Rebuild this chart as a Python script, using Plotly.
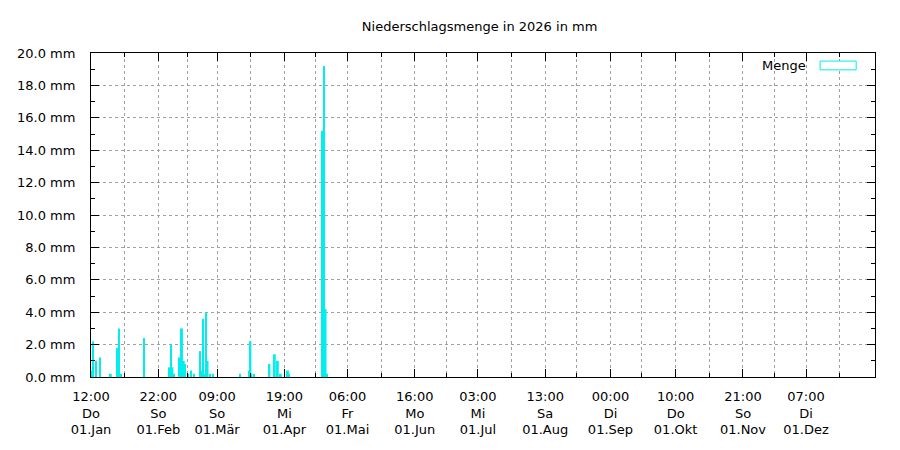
import plotly.graph_objects as go

# ---- data ----
rain_times = [
    "2026-01-01 18:00", "2026-01-02 10:00", "2026-01-03 20:00", "2026-01-05 17:00",
    "2026-01-10 18:00", "2026-01-13 21:00", "2026-01-14 14:00", "2026-01-15 12:00",
    "2026-01-26 06:00", "2026-02-07 02:00", "2026-02-08 12:00", "2026-02-07 20:00",
    "2026-02-09 06:00", "2026-02-11 14:00", "2026-02-12 01:00", "2026-02-12 23:00",
    "2026-02-13 19:00", "2026-02-14 09:00", "2026-02-15 19:00", "2026-02-17 04:00",
    "2026-02-18 14:00", "2026-02-21 10:00", "2026-02-21 22:00", "2026-02-22 19:00",
    "2026-02-23 12:00", "2026-02-24 05:00", "2026-02-24 22:00", "2026-02-26 02:00",
    "2026-02-27 12:00", "2026-03-12 02:00", "2026-03-16 07:00", "2026-03-16 22:00",
    "2026-03-17 10:00", "2026-03-18 14:00", "2026-03-25 14:00", "2026-03-25 19:00",
    "2026-03-28 07:00", "2026-03-29 17:00", "2026-03-31 02:00", "2026-04-03 10:00",
    "2026-04-03 22:00", "2026-04-19 14:00", "2026-04-20 07:00", "2026-04-21 00:00",
    "2026-04-21 17:00",
]
rain_mm = [
    0.4, 2.2, 1.0, 1.2,
    0.2, 1.8, 3.0, 0.2,
    2.4, 0.6, 0.6, 2.0,
    0.2, 1.2, 0.8, 3.0,
    1.0, 0.8, 0.2, 0.4,
    0.2, 1.6, 0.4, 3.6,
    0.2, 4.0, 1.0, 0.2,
    0.2, 0.2, 0.4, 2.2,
    0.2, 0.2, 0.2, 0.8,
    1.4, 1.0, 0.2, 0.4,
    0.2, 15.2, 19.2, 4.2,
    0.2,
]

x_tick_times = [
    "2026-01-01 12:00", "2026-02-01 22:00", "2026-03-01 09:00", "2026-04-01 19:00",
    "2026-05-01 06:00", "2026-06-01 16:00", "2026-07-01 03:00", "2026-08-01 13:00",
    "2026-09-01 00:00", "2026-10-01 10:00", "2026-11-01 21:00", "2026-12-01 07:00",
]
x_tick_labels = [
    "12:00<br>Do<br>01.Jan", "22:00<br>So<br>01.Feb", "09:00<br>So<br>01.Mär",
    "19:00<br>Mi<br>01.Apr", "06:00<br>Fr<br>01.Mai", "16:00<br>Mo<br>01.Jun",
    "03:00<br>Mi<br>01.Jul", "13:00<br>Sa<br>01.Aug", "00:00<br>Di<br>01.Sep",
    "10:00<br>Do<br>01.Okt", "21:00<br>So<br>01.Nov", "07:00<br>Di<br>01.Dez",
]
x_minor_times = [
    "2026-01-17 05:00", "2026-02-15 15:30", "2026-03-17 02:00", "2026-04-16 12:30",
    "2026-05-16 23:00", "2026-06-16 09:30", "2026-07-16 20:00", "2026-08-16 06:30",
    "2026-09-15 17:00", "2026-10-17 03:30", "2026-11-16 14:00", "2026-12-17 00:00",
]
y_tick_vals = [0, 2, 4, 6, 8, 10, 12, 14, 16, 18, 20]
y_tick_labels = ["%.1f mm" % v for v in y_tick_vals]
y_minor_vals = [1, 3, 5, 7, 9, 11, 13, 15, 17, 19]

x_range = ["2026-01-01 12:00", "2027-01-02 12:00"]

FONT = "DejaVu Sans"
BAR = "#00eeee"
GRID = "#a0a0a0"

fig = go.Figure()
fig.add_trace(go.Bar(
    x=rain_times, y=rain_mm, name="Menge",
    width=0.9 * 86400000,
    marker=dict(color=BAR, line=dict(width=0)),
    showlegend=False,
))

# the page body adds an 8px offset; margins compensate for it
fig.update_layout(
    width=900, height=450,
    margin=dict(l=83, r=33, t=45, b=81, autoexpand=False),
    paper_bgcolor="white", plot_bgcolor="white",
    barmode="overlay",
    font=dict(family=FONT, size=13, color="black"),
    title=dict(text="Niederschlagsmenge in 2026 in mm", x=0.524, xanchor="center",
               y=1 - 18 / 450, yanchor="middle", font=dict(size=13)),
    xaxis=dict(
        type="date", range=x_range, automargin=False,
        tickmode="array", tickvals=x_tick_times, ticktext=x_tick_labels,
        ticks="inside", ticklen=8, tickcolor="black",
        showline=True, linecolor="black", linewidth=1, mirror="ticks",
        showgrid=True, gridcolor=GRID, griddash="3px,3px", gridwidth=1,
        zeroline=False, tickfont=dict(size=13), ticklabelstandoff=7,
        minor=dict(tickvals=x_minor_times, ticks="inside", ticklen=4,
                   tickcolor="black", showgrid=True, gridcolor=GRID,
                   griddash="3px,3px", gridwidth=1),
    ),
    yaxis=dict(
        range=[0, 20], automargin=False,
        tickmode="array", tickvals=y_tick_vals, ticktext=y_tick_labels,
        ticks="inside", ticklen=8, tickcolor="black",
        showline=True, linecolor="black", linewidth=1, mirror="ticks",
        showgrid=True, gridcolor=GRID, griddash="3px,3px", gridwidth=1,
        zeroline=False, tickfont=dict(size=13), ticklabelstandoff=12,
        minor=dict(tickvals=y_minor_vals, ticks="inside", ticklen=4,
                   tickcolor="black", showgrid=False),
    ),
    annotations=[dict(
        text="Menge", xref="paper", yref="paper", x=0.915, y=0.960,
        xanchor="right", yanchor="middle", showarrow=False,
        font=dict(size=13),
    )],
    shapes=[dict(
        type="rect", xref="paper", yref="paper",
        x0=0.930, x1=0.976, y0=0.948, y1=0.975,
        line=dict(color=BAR, width=1), fillcolor="white",
    )],
)

fig.write_html("out.html")
